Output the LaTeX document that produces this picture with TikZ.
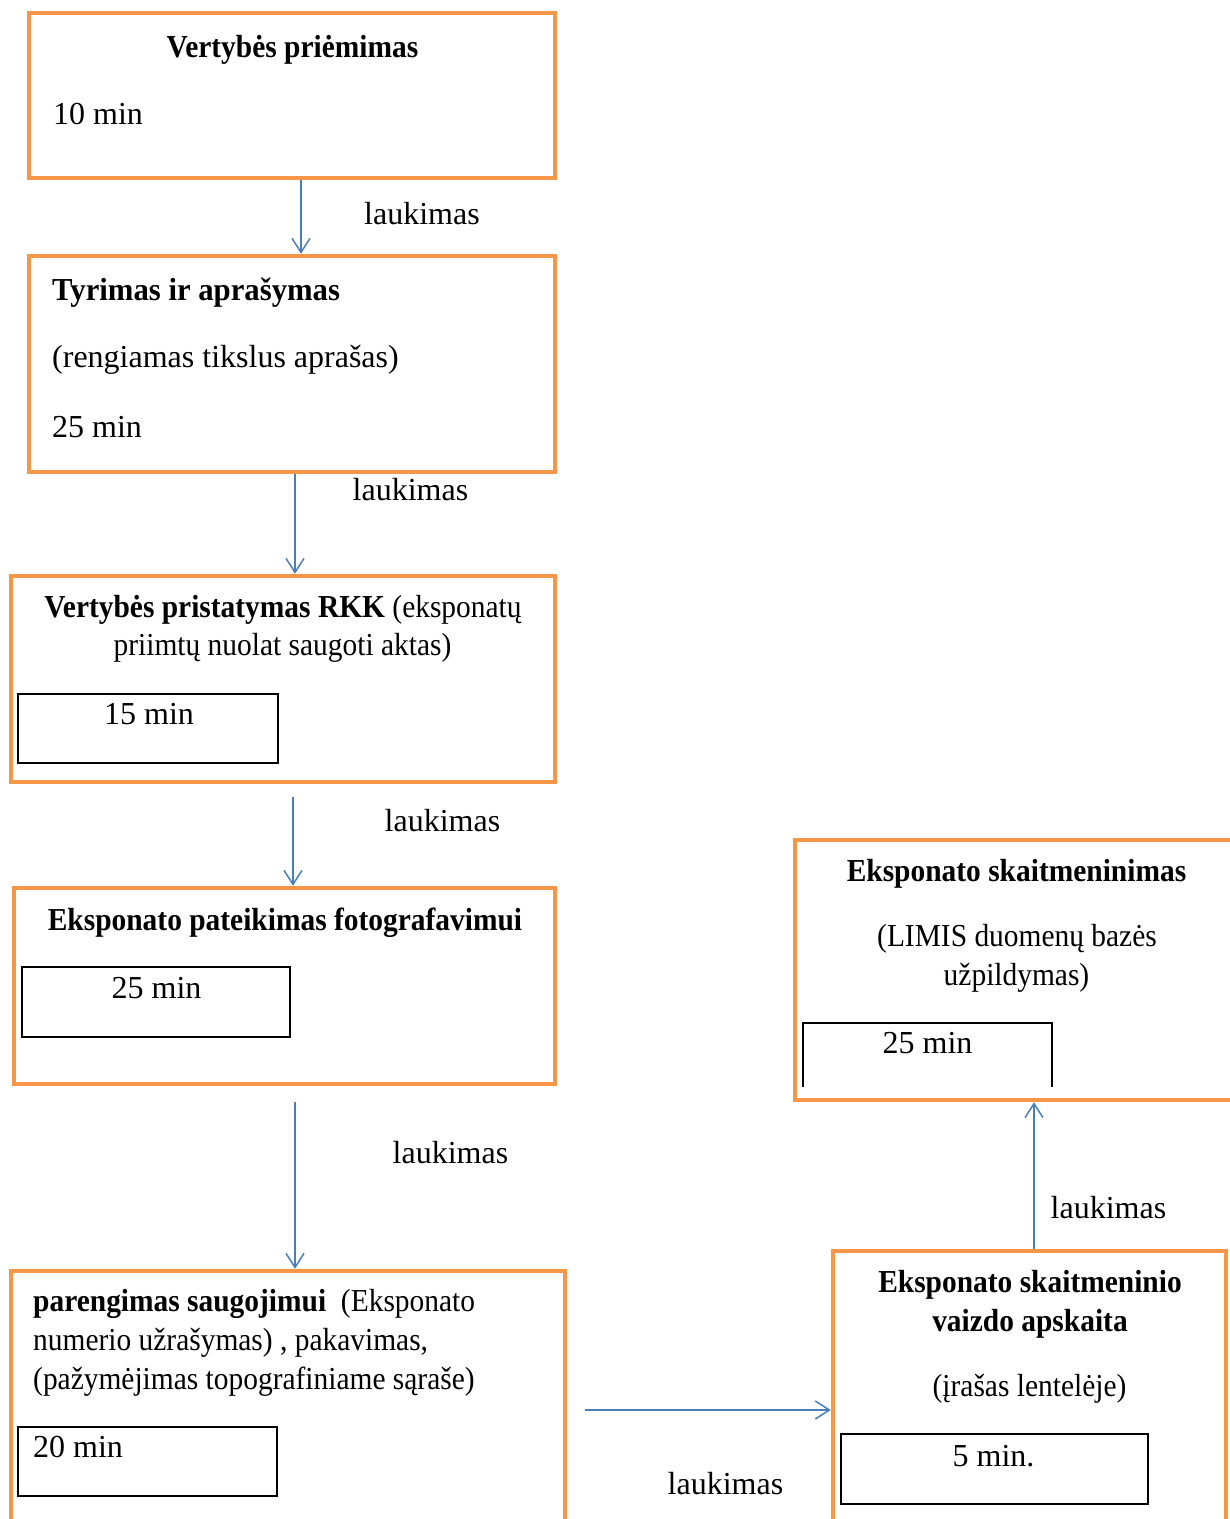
\documentclass[tikz,border=0pt]{standalone}
\usepackage{fontspec}
\setmainfont{Liberation Serif}
\newfontfamily\condfont{Liberation Serif}[FakeStretch=0.92]
\newfontfamily\semicondfont{Liberation Serif}[FakeStretch=0.96]
\usetikzlibrary{arrows.meta,calc}
\definecolor{boxorange}{HTML}{F79646}
\definecolor{flowblue}{HTML}{4A7EBB}

\begin{document}
\begin{tikzpicture}[x=1pt,y=-1pt,font=\fontsize{32}{38}\selectfont]

\tikzset{stage/.style={draw=boxorange, line width=4.5pt, inner sep=0pt},
  timebox/.style={draw=black, line width=1.6pt, inner sep=0pt},
  flow/.style={draw=flowblue, line width=1.5pt, -{Straight Barb[length=14pt,width=18pt,line width=1.5pt]}},
  txt/.style={inner sep=0pt, anchor=base},
  ltxt/.style={inner sep=0pt, anchor=base west},
  narrow/.style={font=\fontsize{32}{38}\condfont}}

\useasboundingbox (0,0) rectangle (1230,1519);
\clip (0,0) rectangle (1230,1519);

% stages
\node[stage, minimum width=526pt, minimum height=165pt] (priem) at (292,95.5) {};
\node[stage, minimum width=526pt, minimum height=216pt] (tyrim) at (292,364) {};
\node[stage, minimum width=544pt, minimum height=206pt] (pristat) at (283,679) {};
\node[stage, minimum width=541pt, minimum height=196pt] (fotogr) at (284.5,986) {};
\node[stage, minimum width=554pt, minimum height=278pt] (pareng) at (288,1410) {};
\node[stage, minimum width=393pt, minimum height=318pt] (skaitap) at (1029.5,1410) {};
\node[stage, minimum width=478pt, minimum height=260pt] (skaitm) at (1034,970) {};

% time boxes
\node[timebox, minimum width=260pt, minimum height=69pt] (t3) at (148,728.5) {};
\node[timebox, minimum width=268pt, minimum height=70pt] (t4) at (156,1002) {};
\node[timebox, minimum width=259pt, minimum height=69pt] (t5) at (147.5,1461.5) {};
\node[timebox, minimum width=307pt, minimum height=70pt] (t6) at (994.5,1469) {};
\draw[black, line width=1.6pt] (803,1087) |- (1052,1023) -- (1052,1087);

% texts
\node[txt, narrow] (priem1) at (292.5,57) {\textbf{Vertybės priėmimas}};
\node[ltxt] (priem2) at (53,124) {10 min};

\node[ltxt, font=\fontsize{32}{38}\semicondfont] (tyrim1) at (52,300) {\textbf{Tyrimas ir aprašymas}};
\node[ltxt] (tyrim2) at (52,367) {(rengiamas tikslus aprašas)};
\node[ltxt] (tyrim3) at (52,437) {25 min};

\node[txt, narrow] (pristat1) at (283,617) {\textbf{Vertybės pristatymas RKK} (eksponatų};
\node[txt, narrow] (pristat2) at (282.5,655) {priimtų nuolat saugoti aktas)};
\node[txt] (pristat3) at (149,724) {15 min};

\node[txt, narrow] (fotogr1) at (285,930) {\textbf{Eksponato pateikimas fotografavimui}};
\node[txt] (fotogr2) at (156.5,998) {25 min};

\node[ltxt, narrow] (pareng1) at (33,1311) {\textbf{parengimas saugojimui}\ \ (Eksponato};
\node[ltxt, narrow] (pareng2) at (33,1350) {numerio užrašymas) , pakavimas,};
\node[ltxt, narrow] (pareng3) at (33,1389) {(pažymėjimas topografiniame sąraše)};
\node[ltxt] (pareng4) at (33,1457) {20 min};

\node[txt, narrow] (skaitap1) at (1030,1292) {\textbf{Eksponato skaitmeninio}};
\node[txt, narrow] (skaitap2) at (1030,1331) {\textbf{vaizdo apskaita}};
\node[txt, narrow] (skaitap3) at (1029.5,1396) {(įrašas lentelėje)};
\node[txt] (skaitap4) at (993.5,1466) {5 min.};

\node[txt, narrow] (skaitm1) at (1016.5,881) {\textbf{Eksponato skaitmeninimas}};
\node[txt, narrow] (skaitm2) at (1017,946) {(LIMIS duomenų bazės};
\node[txt, narrow] (skaitm3) at (1016.5,985) {užpildymas)};
\node[txt] (skaitm4) at (927.5,1053) {25 min};

% connectors
\draw[flow] ([xshift=9pt]priem.south) -- ([xshift=9pt]tyrim.north);
\draw[flow] ([xshift=3pt]tyrim.south) -- ([xshift=12pt]pristat.north);
\draw[flow] ([shift={(10pt,-13pt)}]pristat.south) -- ([xshift=8.5pt]fotogr.north);
\draw[flow] ([shift={(10.5pt,-16pt)}]fotogr.south) -- ([xshift=7pt]pareng.north);
\draw[flow] ([xshift=18pt]pareng.east) -- (skaitap.west);
\draw[flow] ([xshift=4.5pt]skaitap.north) -- (skaitm.south);

\node[txt] (lauk1) at (422,224) {laukimas};
\node[txt] (lauk2) at (410.5,500) {laukimas};
\node[txt] (lauk3) at (442.5,831) {laukimas};
\node[txt] (lauk4) at (450.5,1163) {laukimas};
\node[txt] (lauk5) at (725.5,1494) {laukimas};
\node[txt] (lauk6) at (1108.5,1218) {laukimas};

\end{tikzpicture}
\end{document}
